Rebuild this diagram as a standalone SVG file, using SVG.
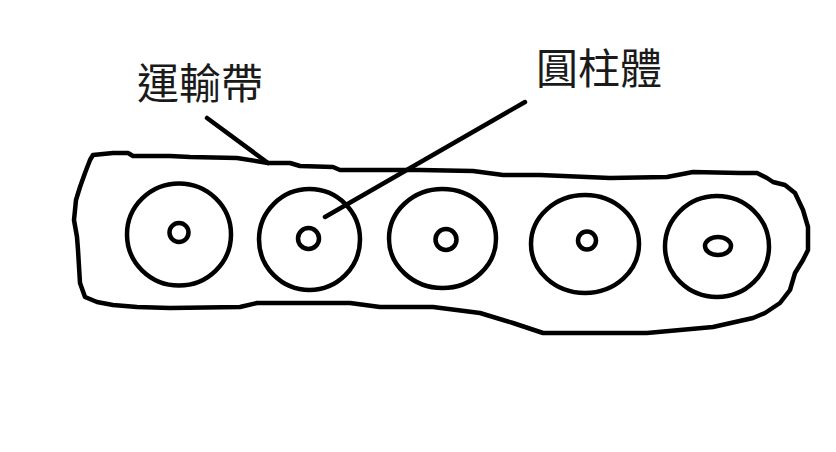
<svg xmlns="http://www.w3.org/2000/svg" width="836" height="452" viewBox="0 0 836 452">
<style>
.ink{fill:none;stroke:#000;stroke-width:4.5;stroke-linejoin:round;stroke-linecap:round}
.lead{fill:none;stroke:#000;stroke-width:4.5;stroke-linecap:round}
.lbl{font-family:"Noto Sans CJK TC","Noto Sans CJK SC",sans-serif;font-size:42px;fill:#1a1a1a}
</style>
<rect width="836" height="452" fill="#fff"/>
<g id="belt">
<path class="ink" d="M93,155 L113,153 L128,153 L133,156 L170,156 L190,157 L237,158 L268,163 L290,163 L300,166 L333,167 L340,170 L420,170 L473,171 L503,175 L540,175 L610,178 L667,177 L693,172 L740,173 L757,173 L767,178 L773,182 L785,185 L795,193 L803,210 L808,227 L808,250 L803,260 L795,273 L790,290 L780,303 L765,313 L753,318 L713,327 L647,333 L543,333 L513,323 L480,313 L433,307 L380,307 L350,303 L257,303 L240,307 L170,308 L137,307 L113,305 L97,302 L85,297 L80,283 L78,250 L77,237 L74,220 L76,200 L80,187 L85,173 L90,160 Z"/>
</g>
<g id="cyl1"><ellipse class="ink" cx="179" cy="234.5" rx="52" ry="51"/><circle class="ink" cx="179" cy="232.5" r="9.5"/></g>
<g id="cyl2"><ellipse class="ink" cx="309.5" cy="239.5" rx="50.5" ry="50.5"/><circle class="ink" cx="308.5" cy="238.5" r="10.5"/></g>
<g id="cyl3"><ellipse class="ink" cx="442.5" cy="238.5" rx="53.5" ry="49.5"/><circle class="ink" cx="446" cy="239.5" r="10.5"/></g>
<g id="cyl4"><ellipse class="ink" cx="585" cy="244" rx="54" ry="49"/><circle class="ink" cx="587" cy="240.5" r="9"/></g>
<g id="cyl5"><ellipse class="ink" cx="717" cy="246.5" rx="52" ry="50.5"/><ellipse class="ink" cx="718" cy="246" rx="13" ry="9"/></g>
<g id="label-belt"><text class="lbl" x="137" y="99">運輸帶</text></g>
<g id="label-cyl"><text class="lbl" x="536" y="84">圓柱體</text></g>
<g id="connectors">
<line class="lead" x1="207" y1="118" x2="268" y2="163"/>
<line class="lead" x1="525" y1="102" x2="325" y2="217"/>
</g>
</svg>
